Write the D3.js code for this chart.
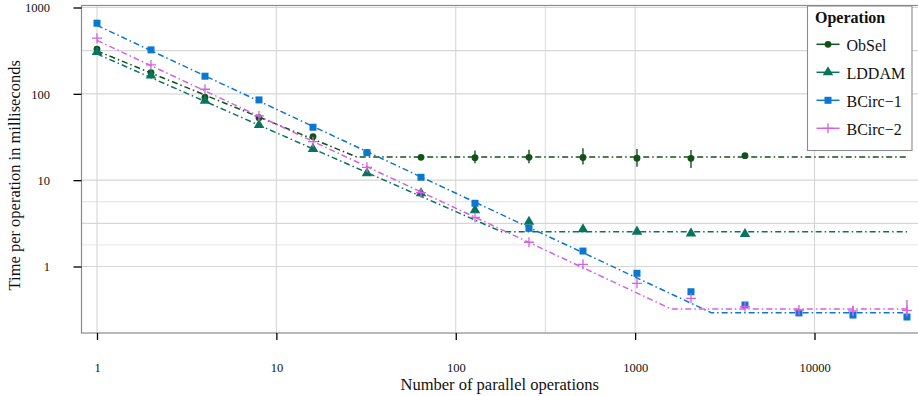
<!DOCTYPE html>
<html>
<head>
<meta charset="utf-8">
<script src="https://cdn.jsdelivr.net/npm/d3@7"></script>
<style>
  html, body { margin: 0; padding: 0; background: #fff; }
  svg { display: block; font-family: "Liberation Serif", "Times New Roman", serif; }
</style>
</head>
<body>
<svg id="chart" width="918" height="396"></svg>
<script>
// Number of parallel operations (x) for each measurement
const sizes = [1, 2, 4, 8, 16, 32, 64, 128, 256, 512, 1024, 2048, 4096, 8192, 16384, 32768];
const seriesNames = ["ObSel", "LDDAM", "BCirc\u22121", "BCirc\u22122"];
const seriesColors = ["#12511a", "#08745e", "#0a77d0", "#d462e2"];

// Measured time per operation (ms)
const obselTime  = [330, 176, 91, 53, 32, 20.8, 18.4, 18.2, 18.4, 18.3, 18.0, 17.9, 19.2];
const lddamTime  = [305, 163, 83, 43.6, 23, 12.0, 7.05, 4.5, 3.3, 2.7, 2.53, 2.42, 2.38];
const bcirc1Time = [658, 323, 160, 85, 41, 20.8, 10.8, 5.4, 2.77, 1.51, 0.834, 0.51, 0.358, 0.29, 0.274, 0.26];
const bcirc2Time = [441, 216, 113, 55.5, 27.9, 14.1, 7.17, 3.7, 1.91, 1.06, 0.639, 0.428, 0.342, 0.313, 0.306, 0.31];

// Spread of the measurements [low, high]; null where it is negligible
const obselRange  = [null, null, null, null, null, null, null, [15.7, 22], [15.7, 22.5], [15.2, 23.4], [14.3, 23], [13.8, 22.4], null];
const lddamRange  = [null, null, null, null, null, null, null, null, null, null, null, null, null];
const bcirc1Range = [null, null, null, null, null, null, null, null, null, null, null, null, null, null, null, null];
const bcirc2Range = [null, null, null, null, null, null, null, null, null, null, null, null, null, null, [0.27, 0.35], [0.263, 0.41]];

// Fitted model for each operation: breakpoints [n, ms]
const obselFit  = [[1, 314], [28, 18.6], [32768, 18.6]];
const lddamFit  = [[1, 290], [180, 2.53], [32768, 2.53]];
const bcirc1Fit = [[1, 621], [2655, 0.292], [32768, 0.292]];
const bcirc2Fit = [[1, 416], [1589, 0.322], [32768, 0.322]];

// Axis ticks and grid
const xTicks = [1, 10, 100, 1000, 10000];
const xTickLabels = ["1", "10", "100", "1000", "10000"];
const yTicks = [1, 10, 100, 1000];
const yTickLabels = ["1", "10", "100", "1000"];
const xGridMajor = [1, 10, 100, 1000, 10000];
const xGridMinor = [316.2];
const yGridMajor = [1, 3.162, 10, 100, 316.2, 1000];
const yGridMinor = [1.778, 5.623];

const times = [obselTime, lddamTime, bcirc1Time, bcirc2Time];
const ranges = [obselRange, lddamRange, bcirc1Range, bcirc2Range];
const fits = [obselFit, lddamFit, bcirc1Fit, bcirc2Fit];
const shapes = ["circle", "triangle", "square", "plus"];

const svg = d3.select("#chart");
const panel = { left: 81.5, top: 5.5, right: 930, bottom: 333 };

const x = d3.scaleLog().domain([1, 10000]).range([97, 814.5]);
const y = d3.scaleLog().domain([1, 1000]).range([266.5, 7.5]);

// panel background and grid
svg.append("rect")
  .attr("x", panel.left).attr("y", panel.top)
  .attr("width", panel.right - panel.left).attr("height", panel.bottom - panel.top)
  .attr("fill", "#fff");

const grid = svg.append("g");
grid.selectAll(".ymin").data(yGridMinor).join("line")
  .attr("x1", panel.left).attr("x2", panel.right)
  .attr("y1", d => y(d)).attr("y2", d => y(d))
  .attr("stroke", "#ebebeb").attr("stroke-width", 1.4);
grid.selectAll(".xmin").data(xGridMinor).join("line")
  .attr("y1", panel.top).attr("y2", panel.bottom)
  .attr("x1", d => x(d)).attr("x2", d => x(d))
  .attr("stroke", "#e3e3e3").attr("stroke-width", 1.4);
grid.selectAll(".ymaj").data(yGridMajor).join("line")
  .attr("x1", panel.left).attr("x2", panel.right)
  .attr("y1", d => y(d)).attr("y2", d => y(d))
  .attr("stroke", "#d6d6d6").attr("stroke-width", 1.1);
grid.selectAll(".xmaj").data(xGridMajor).join("line")
  .attr("y1", panel.top).attr("y2", panel.bottom)
  .attr("x1", d => x(d)).attr("x2", d => x(d))
  .attr("stroke", "#d6d6d6").attr("stroke-width", 1.1);

// marker drawing
function drawMarker(sel, shape, color) {
  if (shape === "circle") {
    sel.append("circle").attr("r", 3.4).attr("fill", color);
  } else if (shape === "triangle") {
    sel.append("path").attr("d", d3.symbol(d3.symbolTriangle, 48)()).attr("fill", color);
  } else if (shape === "square") {
    sel.append("rect").attr("x", -3.5).attr("y", -3.5).attr("width", 7).attr("height", 7).attr("fill", color);
  } else {
    sel.append("path").attr("d", "M-5,0H5M0,-5V5").attr("stroke", color)
      .attr("stroke-width", 1.3).attr("fill", "none");
  }
}

const plot = svg.append("g");
const fitLine = d3.line().x(d => x(d[0])).y(d => y(d[1]));

times.forEach((vals, i) => {
  const g = plot.append("g");
  const color = seriesColors[i];
  g.append("path")
    .attr("d", fitLine(fits[i]))
    .attr("fill", "none")
    .attr("stroke", color)
    .attr("stroke-width", 1.5)
    .attr("stroke-dasharray", "6,3,1.5,3");
  const pts = vals.map((v, k) => ({ n: sizes[k], v, r: ranges[i][k] }));
  g.selectAll(".err").data(pts.filter(p => p.r)).join("line")
    .attr("x1", p => x(p.n)).attr("x2", p => x(p.n))
    .attr("y1", p => y(p.r[0])).attr("y2", p => y(p.r[1]))
    .attr("stroke", color).attr("stroke-width", 1.4);
  g.selectAll(".pt").data(pts).join("g")
    .attr("transform", p => `translate(${x(p.n)},${y(p.v)})`)
    .each(function () { drawMarker(d3.select(this), shapes[i], color); });
});

// panel border
svg.append("rect")
  .attr("x", panel.left).attr("y", panel.top)
  .attr("width", panel.right - panel.left).attr("height", panel.bottom - panel.top)
  .attr("fill", "none").attr("stroke", "#8a8a8a").attr("stroke-width", 1.2);

// axes
const xAxis = d3.axisBottom(x).tickValues(xTicks).tickSize(7).tickFormat((d, k) => xTickLabels[k]);
const gx = svg.append("g").attr("transform", `translate(0,${panel.bottom})`).call(xAxis);
gx.select(".domain").remove();
gx.selectAll(".tick line").attr("stroke", "#000").attr("stroke-width", 1.3);
gx.selectAll(".tick text").attr("y", 0).attr("dy", 0)
  .attr("transform", "translate(0,38.5)")
  .attr("font-family", "Liberation Serif").attr("font-size", 12.5).attr("fill", "#111");

const yAxis = d3.axisLeft(y).tickValues(yTicks).tickSize(8).tickFormat((d, k) => yTickLabels[k]);
const gy = svg.append("g").attr("transform", `translate(${panel.left},0)`).call(yAxis);
gy.select(".domain").remove();
gy.selectAll(".tick line").attr("stroke", "#000").attr("stroke-width", 1.3);
gy.selectAll(".tick text").attr("x", -31.5).attr("dy", "0.34em")
  .attr("font-family", "Liberation Serif").attr("font-size", 12.5).attr("fill", "#111");

// axis titles
svg.append("text")
  .attr("x", (panel.left + 918) / 2).attr("y", 389.5)
  .attr("text-anchor", "middle").attr("font-size", 16.5).attr("fill", "#111")
  .text("Number of parallel operations");
svg.append("text")
  .attr("transform", `translate(20,${(panel.top + panel.bottom) / 2 + 6}) rotate(-90)`)
  .attr("text-anchor", "middle").attr("font-size", 16.5).attr("fill", "#111")
  .text("Time per operation in milliseconds");

// legend
const legend = svg.append("g");
legend.append("rect")
  .attr("x", 807.5).attr("y", 6).attr("width", 104.5).attr("height", 144.5)
  .attr("fill", "#fff").attr("stroke", "#8a8a8a").attr("stroke-width", 1.1);
legend.append("text")
  .attr("x", 815).attr("y", 22.5)
  .attr("font-size", 16).attr("font-weight", "bold").attr("fill", "#111")
  .text("Operation");
seriesNames.forEach((name, i) => {
  const cy = 44.3 + i * 28;
  const row = legend.append("g");
  row.append("line")
    .attr("x1", 816.5).attr("x2", 839.5).attr("y1", cy).attr("y2", cy)
    .attr("stroke", seriesColors[i]).attr("stroke-width", 1.5);
  const m = row.append("g").attr("transform", `translate(828,${cy})`);
  drawMarker(m, shapes[i], seriesColors[i]);
  row.append("text")
    .attr("x", 846.5).attr("y", cy + 6.5)
    .attr("font-size", 16).attr("fill", "#111")
    .text(name);
});
</script>
</body>
</html>
